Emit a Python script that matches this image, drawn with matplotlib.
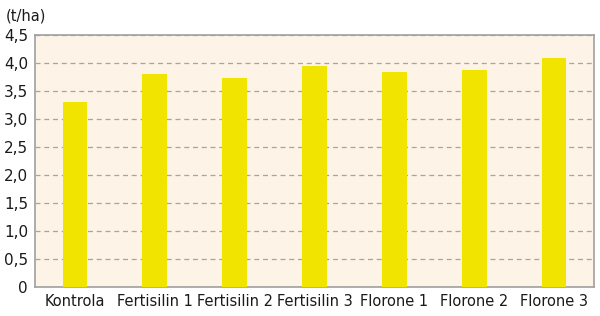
import matplotlib.pyplot as plt

# hodnoty
kategorie = ['Kontrola', 'Fertisilin 1', 'Fertisilin 2', 'Fertisilin 3',
             'Florone 1', 'Florone 2', 'Florone 3']
vynos = [3.30, 3.81, 3.74, 3.94, 3.84, 3.88, 4.09]
yticks = [0, 0.5, 1.0, 1.5, 2.0, 2.5, 3.0, 3.5, 4.0, 4.5]
ylabels = ['0', '0,5', '1,0', '1,5', '2,0', '2,5', '3,0', '3,5', '4,0', '4,5']

fig = plt.figure(figsize=(6, 3.16), dpi=100)
ax = fig.add_axes([35/600, 1 - 287/316, 559/600, 252/316])
ax.set_facecolor('#fdf3e7')

x = range(len(kategorie))
ax.bar(x, vynos, width=0.31, color='#f0e400', zorder=3)

ax.set_xlim(-0.5, len(kategorie) - 0.5)
ax.set_ylim(0, 4.5)
ax.set_yticks(yticks)
ax.set_yticklabels(ylabels)
ax.set_xticks(list(x))
ax.set_xticklabels(kategorie)
ax.tick_params(length=0, labelsize=10.5, colors='#1a1a1a', pad=5)
ax.tick_params(axis='y', pad=5, labelsize=11)

ax.grid(axis='y', color='#aaa49e', linestyle=(0, (4, 3)), linewidth=0.9, zorder=1)
for s in ax.spines.values():
    s.set_color('#a0a0a0')
    s.set_linewidth(1.2)

fig.text(6/600, 1 - 16/316, '(t/ha)', fontsize=10.5, color='#1a1a1a', va='center')

plt.savefig('out.png')
